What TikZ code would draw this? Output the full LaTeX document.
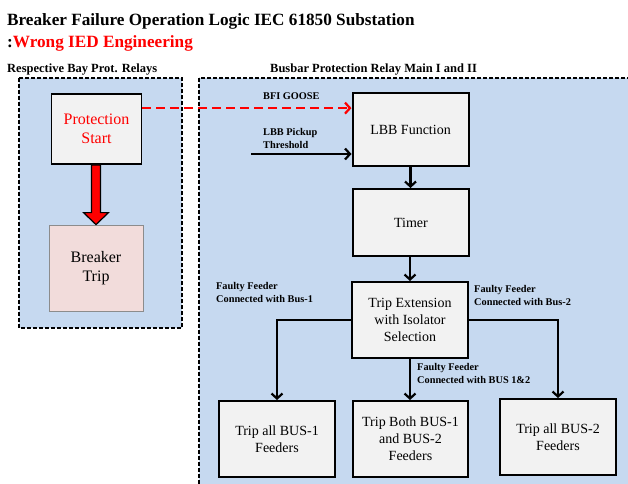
\documentclass[tikz,border=0pt]{standalone}
\usepackage{fontspec}
\setmainfont{Liberation Serif}
\usetikzlibrary{arrows.meta}
\definecolor{panelblue}{HTML}{C6D9F0}
\definecolor{boxgray}{HTML}{F2F2F2}
\definecolor{pinkbox}{HTML}{F2DCDB}
\definecolor{pinkedge}{HTML}{8C8C8C}
\begin{document}
\begin{tikzpicture}[x=1pt,y=-1pt,
  panel/.style={draw=black, fill=panelblue, line width=1.8pt, dash pattern=on 4pt off 2pt},
  leftbox/.style={draw=black, fill=boxgray, line width=1.8pt, align=center, inner sep=2pt,
    font=\fontsize{16}{19.5}\selectfont},
  tripbox/.style={draw=pinkedge, fill=pinkbox, line width=0.8pt, align=center, inner sep=2pt,
    font=\fontsize{16}{19.5}\selectfont},
  logicbox/.style={draw=black, fill=boxgray, line width=2pt, align=center, inner sep=2pt,
    font=\fontsize{14}{17}\selectfont},
  lbl/.style={font=\fontsize{10.3}{13}\bfseries\selectfont, align=left, inner sep=0pt},
  hdr/.style={font=\fontsize{12.5}{15}\bfseries\selectfont, inner sep=0pt},
  ttl/.style={font=\fontsize{17.2}{20}\bfseries\selectfont, inner sep=0pt},
  arr/.style={draw=black, line width=2.4pt, -{Straight Barb[length=5pt,width=11pt,line width=2.2pt]}},
  redarr/.style={draw=red, line width=2.6pt, dash pattern=on 9pt off 5pt,
    -{Straight Barb[length=5pt,width=11pt,line width=2.2pt]}}
]
\useasboundingbox (0,0) rectangle (628,483);
\clip (0,0) rectangle (628,483);

% titles
\node[ttl, anchor=base west] (t1) at (7,25) {Breaker Failure Operation Logic IEC 61850 Substation};
\node[ttl, anchor=base west] (t2) at (7,47) {:\textcolor{red}{Wrong IED Engineering}};
\node[hdr, anchor=base west] (h1) at (7,72) {Respective Bay Prot. Relays};
\node[hdr, anchor=base west] (h2) at (270,72) {Busbar Protection Relay Main I and II};

% panels
\path[panel] (19,78) rectangle (182,328);
\path[panel] (199,78) rectangle (660,520);

% left boxes
\node[leftbox, minimum width=90pt, minimum height=70pt, text=red] (ps) at (96.5,129) {Protection\\Start};
\node[tripbox, minimum width=94pt, minimum height=86pt] (bt) at (96,268) {Breaker\\Trip};

% thick red arrow
\draw[fill=red, line width=1.2pt, line join=miter]
  ([xshift=-4.5pt]ps.south -| bt.north) -- ([xshift=-4.5pt,yshift=12pt]bt.north)
  -- ([xshift=-12.5pt,yshift=12pt]bt.north) -- (bt.north)
  -- ([xshift=12.5pt,yshift=12pt]bt.north) -- ([xshift=4.5pt,yshift=12pt]bt.north)
  -- ([xshift=4.5pt]ps.south -| bt.north) -- cycle;

% right boxes
\node[logicbox, minimum width=116pt, minimum height=73pt] (lbb) at (410.5,129.5) {LBB Function};
\node[logicbox, minimum width=116pt, minimum height=67pt] (tim) at (411,222.5) {Timer};
\node[logicbox, minimum width=116pt, minimum height=76pt] (tex) at (410,320) {Trip Extension\\with Isolator\\Selection};
\node[logicbox, minimum width=116pt, minimum height=76pt] (b1) at (277,439) {Trip all BUS-1\\Feeders};
\node[logicbox, minimum width=115pt, minimum height=76pt] (b12) at (410.5,439) {Trip Both BUS-1\\and BUS-2\\Feeders};
\node[logicbox, minimum width=116pt, minimum height=76pt] (b2) at (558,437) {Trip all BUS-2\\Feeders};

% labels
\node[lbl, anchor=west] (lg) at (263,96) {BFI GOOSE};
\node[lbl, anchor=west] (lp) at (263,138.5) {LBB Pickup\\Threshold};
\node[lbl, anchor=west] (l1) at (216,292.5) {Faulty Feeder\\Connected with Bus-1};
\node[lbl, anchor=west] (l2) at (474,295) {Faulty Feeder\\Connected with Bus-2};
\node[lbl, anchor=west] (l12) at (417,373.5) {Faulty Feeder\\Connected with BUS 1\&2};

% connectors
\draw[redarr] ([yshift=-15pt]ps.north east) -- ([yshift=-15pt]ps.north east -| lbb.west);
\coordinate (pk) at (251,154);
\draw[arr] (pk) -- (pk -| lbb.west);
\draw[arr] (lbb.south) -- (lbb.south |- tim.north);
\draw[arr] (tim.south -| tex.north) -- (tex.north);
\draw[arr] (tex.west) -| (b1.north);
\draw[arr] (tex.south) -- (tex.south |- b12.north);
\draw[arr] (tex.east) -| (b2.north);
\end{tikzpicture}
\end{document}
